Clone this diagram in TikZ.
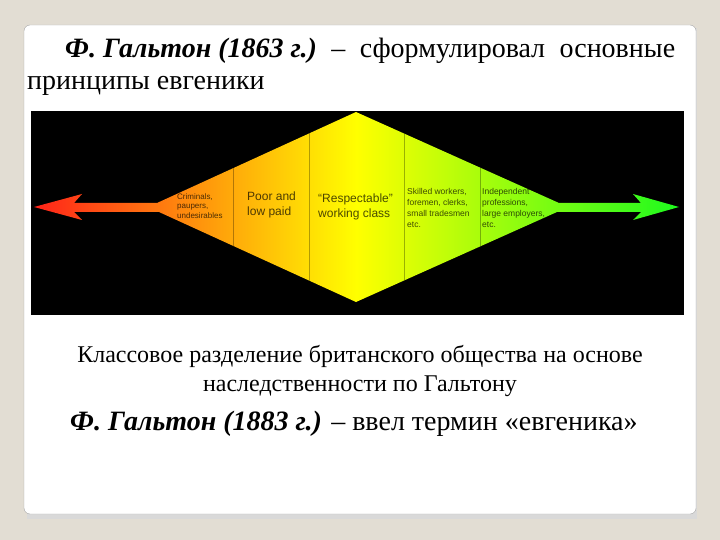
\documentclass[tikz,border=0pt]{standalone}
\usepackage{fontspec}
\setmainfont{Liberation Serif}
\newfontfamily\labelfont{Liberation Sans}
\usetikzlibrary{positioning}
\definecolor{slide_bg}{RGB}{226,221,211}
\definecolor{class_red}{RGB}{255,35,25}
\definecolor{class_yellow}{RGB}{255,255,0}
\definecolor{class_green}{RGB}{30,250,30}
\tikzset{
        % Labels inside the diamond
        class_label/.style={align=left, inner sep=0pt, anchor=west, text=black, text opacity=0.7, font=\labelfont\fontsize{12}{14.5}\selectfont},
        % Smaller labels inside the diamond
        class_small/.style={class_label, font=\labelfont\fontsize{8.5}{11}\selectfont},
        % Slide text
        slide_text/.style={inner sep=0pt, font=\fontsize{28}{32}\selectfont},
        % Caption under the picture
        caption_text/.style={inner sep=0pt, align=center, font=\fontsize{24}{28.5}\selectfont}
}
\begin{document}
\begin{tikzpicture}[x=1pt, y=-1pt]
            \useasboundingbox[fill=slide_bg] (0,0) rectangle (720,540);
            % card
            \fill[gray!30] (27,28) rectangle (697,519);
            \draw[gray!70, fill=white, rounded corners=6pt] (24,25) rectangle (696,514);
            % picture
            \fill[black] (31,111) rectangle (684,315);
            \shade[left color=class_red, right color=class_green, middle color=class_yellow]
                (34,207) -- (82,194) -- (74,203) -- (157,203) -- (356,112) -- (559,203)
                -- (641,203) -- (633,194) -- (679,207) -- (633,220) -- (641,212)
                -- (557,212) -- (356,302) -- (159,212) -- (74,212) -- (82,220) -- cycle;
            \begin{scope}
                \clip (148,207) -- (356,112) -- (568,207) -- (356,302) -- cycle;
                \foreach \x in {233,309,404,480}
                    \draw[black, opacity=0.3, line width=0.8pt] (\x,100) -- (\x,320);
            \end{scope}
            \node[class_small, font=\labelfont\fontsize{8}{9.5}\selectfont] (criminals) at (177,206) {Criminals,\\paupers,\\undesirables};
            \node[class_label] (poor) at (247,205) {Poor and\\low paid};
            \node[class_label] (working) at (318,207) {“Respectable”\\working class};
            \node[class_small] (skilled) at (407,208) {Skilled workers,\\foremen, clerks,\\small tradesmen\\etc.};
            \node[class_small] (independent) at (482,208) {Independent\\professions,\\large employers,\\etc.};
            % texts
            \node[slide_text, anchor=north west, text width=648pt, align=justify] (title) at (27,38)
                {\hspace*{38pt}\mbox{\textbf{\textit{Ф. Гальтон (1863 г.)}}} – сформулировал основные\linebreak принципы евгеники};
            \node[caption_text] (caption) at (360,371)
                {Классовое разделение британского общества на основе\\наследственности по Гальтону};
            \node[slide_text, anchor=west] (term) at (70,424)
                {\textbf{\textit{Ф. Гальтон (1883 г.)}} – ввел термин «евгеника»};
\end{tikzpicture}
\end{document}
